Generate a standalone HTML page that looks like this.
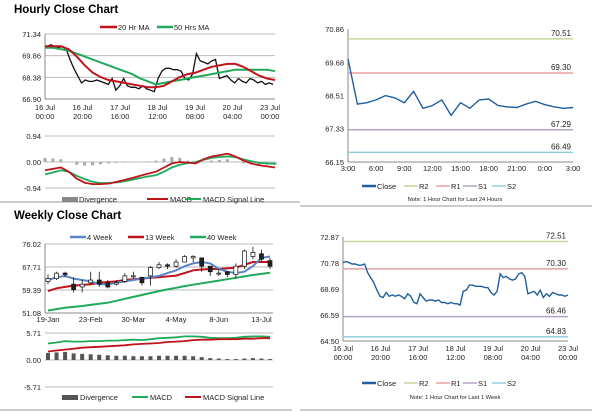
<!DOCTYPE html>
<html><head><meta charset="utf-8"><style>
html,body{margin:0;padding:0;background:#fff;}
svg{display:block;font-family:"Liberation Sans",Arial,sans-serif;}
</style></head><body>
<svg id="c" width="600" height="413" viewBox="0 0 600 413">
<text x="14" y="13" font-size="11.5" font-weight="bold">Hourly Close Chart</text>
<text x="14" y="219" font-size="11.5" font-weight="bold">Weekly Close Chart</text>
<line x1="0" y1="202" x2="300" y2="202" stroke="#999" stroke-width="1"/>
<line x1="300" y1="206" x2="592" y2="206" stroke="#999" stroke-width="1"/>
<line x1="0" y1="410" x2="292" y2="410" stroke="#999" stroke-width="1"/>
<line x1="300" y1="410" x2="592" y2="410" stroke="#999" stroke-width="1"/>
</svg>
<script>
// ---- Hourly close chart data ----
const hourlyClose = [70.5,70.6,70.5,70.4,70.5,70.3,69.6,69.0,68.5,68.0,68.2,68.1,68.1,68.2,68.1,68.0,67.9,68.3,67.5,67.8,68.3,67.8,67.7,67.7,67.6,67.8,67.6,67.5,67.4,68.3,68.8,69.0,69.0,68.9,68.9,68.8,68.3,68.2,68.6,70.0,69.5,69.4,69.3,69.5,69.6,68.3,68.4,68.5,68.2,68.0,68.3,68.1,68.0,68.3,68.2,68.0,68.1,67.9,68.0,67.9];
const hourlyMA20 = [70.5,70.5,70.5,70.3,69.8,69.2,68.7,68.4,68.2,68.1,68.0,67.9,67.8,67.7,67.7,67.8,68.1,68.4,68.6,68.7,68.9,69.1,69.2,69.3,69.3,69.1,68.8,68.5,68.3,68.2];
const hourlyMA50 = [70.4,70.4,70.3,70.2,70.0,69.8,69.6,69.4,69.2,69.0,68.8,68.6,68.3,68.1,67.9,68.0,68.1,68.2,68.3,68.4,68.5,68.6,68.7,68.8,68.9,68.9,68.9,68.9,68.9,68.8];
const hourlyMACD = [-0.30,-0.25,-0.20,-0.35,-0.60,-0.75,-0.80,-0.80,-0.78,-0.72,-0.65,-0.58,-0.50,-0.42,-0.35,-0.20,-0.05,0.00,-0.02,-0.05,0.10,0.20,0.25,0.30,0.20,0.05,-0.05,-0.12,-0.16,-0.20];
const hourlySignal = [-0.45,-0.38,-0.30,-0.35,-0.50,-0.62,-0.72,-0.76,-0.76,-0.74,-0.70,-0.64,-0.58,-0.52,-0.48,-0.35,-0.20,-0.10,-0.04,0.00,0.08,0.15,0.18,0.20,0.18,0.10,0.03,-0.03,-0.05,-0.06];
const hourlyDiv = [0.15,0.13,0.10,0.00,-0.10,-0.13,-0.12,-0.08,-0.05,-0.03,-0.02,-0.01,0.00,0.02,0.05,0.12,0.18,0.15,0.05,-0.05,0.02,0.05,0.07,0.10,0.02,-0.05,-0.08,-0.09,-0.10,-0.11];
const hourlyTicks = [71.34,69.86,68.38,66.90];
const hourlyXLabels = [["16 Jul","00:00"],["16 Jul","20:00"],["17 Jul","16:00"],["18 Jul","12:00"],["19 Jul","08:00"],["20 Jul","04:00"],["23 Jul","00:00"]];
const hourlyMacdTicks = [0.94,0.00,-0.94];
// ---- 24 hour chart data ----
const dayClose = [69.8,68.2,68.25,68.35,68.5,68.42,68.25,68.65,68.05,68.15,68.35,67.8,68.25,68.05,68.35,68.38,68.15,68.1,68.08,68.2,68.3,68.18,68.1,68.05,68.08];
const dayLevels = [70.51,69.30,67.29,66.49];
const dayTicks = [70.86,69.68,68.51,67.33,66.15];
const dayXLabels = ["3:00","6:00","9:00","12:00","15:00","18:00","21:00","0:00","3:00"];
// ---- Weekly chart data ----
const weekOpen = [62.5,63.5,65.5,61.5,60.5,62,63,62,61.5,62.5,64.5,64,64.5,67.5,68.5,68,69.5,71,71,68,65.5,66,65,68,71.5,72.5,70];
const weekClose = [63.5,65.5,65,59.5,61.5,63,61.5,60.5,62,64.5,64.5,62,67.5,68.5,68,69.5,71.5,71.5,68,66,65.5,65,68,73.5,73,70.5,68];
const weekHigh = [65,66,66,64,63,66,66,63,63,65.5,66,64,68,69.5,69,70.5,72,72,71,68,67,66,69,74,75,74,71];
const weekLow = [61.5,63,64,58.5,58.5,61.5,60.5,60,61,62,63.5,61,61,67,67,67.5,69.5,69.5,66,64.5,64.5,64,63.5,67,70.5,69.5,67];
const week4 = [63,64,64.5,63.5,63,62.5,61.5,61.5,62,62.5,63,63.5,64,64.5,65.5,66.5,68,69,69.5,69,67,66,65.5,66,68,71,71.5];
const week13 = [59,60,60.5,61,61.2,61.5,62,62.3,62.5,63,63.3,63.5,63.8,64,64.3,64.6,65.5,66.5,66.8,67,67,67.2,67.5,68.5,69.5,69.5,69.5];
const week40 = [52,52.5,53,53.3,53.6,54,54.4,54.8,55.5,56.2,56.9,57.6,58.3,59,59.6,60.2,60.8,61.3,61.8,62.3,62.8,63.3,63.8,64.3,64.8,65.2,65.6];
const weekMACD = [3.5,3.7,4.0,3.9,3.9,4.0,4.0,4.1,4.1,4.2,4.3,4.2,4.4,4.6,4.7,4.8,5.0,5.0,4.9,4.7,4.6,4.6,4.7,4.9,5.0,5.0,4.9];
const weekSignal = [1.8,2.0,2.2,2.4,2.6,2.7,2.8,2.9,3.0,3.1,3.3,3.4,3.5,3.6,3.8,3.9,4.0,4.2,4.3,4.3,4.4,4.4,4.4,4.5,4.5,4.6,4.6];
const weekDiv = [1.5,1.6,1.7,1.4,1.3,1.2,1.1,1.0,0.9,0.9,0.8,0.8,0.8,0.9,0.9,0.9,0.9,0.8,0.6,0.4,0.3,0.2,0.2,0.3,0.4,0.3,0.2];
const weekTicks = [76.02,67.71,59.39,51.08];
const weekXLabels = ["19-Jan","23-Feb","30-Mar","4-May","8-Jun","13-Jul"];
const weekXIdx = [0,5,10,15,20,25];
const weekMacdTicks = [5.71,0.00,-5.71];
// ---- 1 week hourly chart data ----
const wkClose = [70.8,70.9,70.8,70.7,70.7,70.6,70.6,70.7,70.0,69.6,69.2,68.6,68.1,68.0,68.4,68.1,68.2,68.1,68.2,68.1,67.9,68.3,68.1,67.6,67.5,68.3,68.0,67.7,67.8,67.8,67.7,67.8,67.6,67.6,67.5,67.6,67.5,67.5,67.4,68.5,68.6,69.0,69.0,68.9,68.9,68.9,68.8,68.8,68.4,68.2,68.5,69.9,69.6,69.7,69.5,69.4,69.5,69.9,70.0,69.7,68.3,68.4,68.5,68.2,68.6,68.0,68.3,68.1,68.4,68.3,68.2,68.2,68.1,68.2];
const wkLevels = [72.51,70.30,66.46,64.83];
const wkTicks = [72.87,70.78,68.69,66.59,64.50];
const wkXLabels = [["16 Jul","00:00"],["16 Jul","20:00"],["17 Jul","16:00"],["18 Jul","12:00"],["19 Jul","08:00"],["20 Jul","04:00"],["23 Jul","00:00"]];

const svg = document.getElementById('c');
const NS = 'http://www.w3.org/2000/svg';
function mk(tag, attrs){ const e=document.createElementNS(NS,tag); for(const k in attrs) e.setAttribute(k,attrs[k]); svg.appendChild(e); return e; }
function lin(d0,d1,r0,r1){ return v=>r0+(v-d0)*(r1-r0)/(d1-d0); }
function txt(x,y,s,size,anchor,fill){ const t=mk('text',{x:x,y:y,'font-size':size,'text-anchor':anchor||'start',fill:fill||'#222'}); t.textContent=s; return t; }
function path(vals,xf,yf){ return vals.map((v,i)=>(i?'L':'M')+xf(i).toFixed(1)+' '+yf(v).toFixed(1)).join(' '); }

// ===== Hourly chart =====
(function(){
 const X0=45,X1=275,Y0=34,Y1=99;
 const y=lin(71.34,66.90,Y0,Y1);
 hourlyTicks.forEach((t,i)=>{
  const g=mk('line',{x1:X0,x2:X1,y1:y(t),y2:y(t),stroke:i==3?'#888':'#bbb','stroke-width':1});
  
  
  const l=txt(X0-4,y(t)+3,t.toFixed(2),7.5,'end');
  
  
 });
 const ax=mk('line',{x1:X0,x2:X0,y1:Y0,y2:Y1,stroke:'#888'});
 
 
 hourlyXLabels.forEach((l,i)=>{
  const xx=X0+i*(X1-X0-5)/(hourlyXLabels.length-1);
  const a=txt(xx,110,l[0],7.5,'middle');  
  const b=txt(xx,119,l[1],7.5,'middle');  
 });
 const xc=i=>X0+2+i*(X1-X0-4)/(hourlyClose.length-1);
 const pc=mk('path',{d:path(hourlyClose,xc,y),fill:'none',stroke:'#111','stroke-width':1.3});
 
 
 const xm=i=>X0+i*(X1-X0)/(hourlyMA20.length-1);
 const p50=mk('path',{d:path(hourlyMA50,xm,y),fill:'none',stroke:'#1faa5a','stroke-width':2});
 
 
 const p20=mk('path',{d:path(hourlyMA20,xm,y),fill:'none',stroke:'#c0141c','stroke-width':2});
 
 
 const l1=mk('line',{x1:100,x2:117,y1:27,y2:27,stroke:'#c0141c','stroke-width':2.5});  
 const t1=txt(118,30,'20 Hr MA',7.5);  
 const l2=mk('line',{x1:157,x2:173,y1:27,y2:27,stroke:'#1faa5a','stroke-width':2.5});  
 const t2=txt(174,30,'50 Hrs MA',7.5);  
 const ym=lin(0.94,-0.94,136,188);
 hourlyMacdTicks.forEach(t=>{
  const g=mk('line',{x1:X0,x2:X1,y1:ym(t),y2:ym(t),stroke:'#bbb'});
  
  
  const l=txt(X0-4,ym(t)+3,t.toFixed(2),7.5,'end');
  
  
 });
 const xd=i=>X0+i*(X1-X0)/(hourlyDiv.length-1);
 hourlyDiv.forEach((v,i)=>{
  const r=mk('rect',{x:xd(i)-1.5,y:Math.min(ym(v),ym(0)),width:3,height:Math.abs(ym(v)-ym(0)),fill:'#aaa'});
  
  
 });
 const ps=mk('path',{d:path(hourlySignal,xm,ym),fill:'none',stroke:'#1faa5a','stroke-width':1.8});
 
 
 const pm=mk('path',{d:path(hourlyMACD,xm,ym),fill:'none',stroke:'#c0141c','stroke-width':1.8});
 
 
 const r1=mk('rect',{x:62,y:197,width:16,height:5,fill:'#888'});  
 const a1=txt(79,202,'Divergence',7.5);  
 const r2=mk('line',{x1:147,x2:168,y1:199,y2:199,stroke:'#c0141c','stroke-width':2});  
 const a2=txt(170,202,'MACD',7.5);  
 const r3=mk('line',{x1:185,x2:201,y1:199,y2:199,stroke:'#1faa5a','stroke-width':2});  
 const a3=txt(203,202,'MACD Signal Line',7.5);  
})();

// ===== Level charts (right side) =====
const levelColors=['#c3d69b','#e6a0a0','#b3a2c7','#93cddd'];
const levelNames=['R2','R1','S1','S2'];
function levelChart(o){
 const y=lin(o.ticks[0],o.ticks[o.ticks.length-1],o.Y0,o.Y1);
 o.ticks.forEach(t=>{
  const l=txt(o.X0-4,y(t)+3,t.toFixed(2),7.5,'end');
  
  
 });
 const ax=mk('line',{x1:o.X0,x2:o.X0,y1:o.Y0,y2:o.Y1,stroke:'#888'});  
 const bx=mk('line',{x1:o.X0,x2:o.X1,y1:o.Y1,y2:o.Y1,stroke:'#888'});  
 o.levels.forEach((v,i)=>{
  const g=mk('line',{x1:o.X0,x2:o.X1,y1:y(v),y2:y(v),stroke:levelColors[i],'stroke-width':1.5});
  
  
  const l=txt(o.X1-2,y(v)-3,v.toFixed(2),8,'end');
  
  
 });
 const xc=i=>o.X0+i*(o.X1-o.X0)/(o.close.length-1);
 const p=mk('path',{d:path(o.close,xc,y),fill:'none',stroke:'#1f5f9f','stroke-width':1.4});
 
 
 o.xl.forEach((l,i)=>{
  const xx=o.X0+i*(o.X1-o.X0)/(o.xl.length-1);
  if(Array.isArray(l)){
   const a=txt(xx,o.Y1+10,l[0],7.5,'middle');  
   const b=txt(xx,o.Y1+19,l[1],7.5,'middle');  
  } else {
   const a=txt(xx,o.Y1+9,l,7.5,'middle');  
  }
 });
 const lx=[362,404,436,463,492];
 const cols=['#1f5f9f'].concat(levelColors);
 const nm=['Close'].concat(levelNames);
 nm.forEach((n,i)=>{
  const s=mk('line',{x1:lx[i],x2:lx[i]+14,y1:o.LY-3,y2:o.LY-3,stroke:cols[i],'stroke-width':i?1.5:2.5});
  
  
  const t=txt(lx[i]+15,o.LY,n,7.5);
  
  
 });
 const nt=txt(455,o.NY,o.note,5.8,'middle');
 
 
}
levelChart({name:'day',X0:348,X1:573,Y0:29,Y1:162,ticks:dayTicks,levels:dayLevels,close:dayClose,xl:dayXLabels,LY:189,NY:201,note:'Note: 1 Hour Chart for Last 24 Hours'});
levelChart({name:'week',X0:343,X1:568,Y0:237,Y1:341,ticks:wkTicks,levels:wkLevels,close:wkClose,xl:wkXLabels,LY:386,NY:399,note:'Note: 1 Hour Chart for Last 1 Week'});

// ===== Weekly chart =====
(function(){
 const X0=45,X1=273,Y0=244,Y1=313;
 const y=lin(76.02,51.08,Y0,Y1);
 weekTicks.forEach((t,i)=>{
  const g=mk('line',{x1:X0,x2:X1,y1:y(t),y2:y(t),stroke:i==3?'#888':'#bbb'});
  
  
  const l=txt(X0-4,y(t)+3,t.toFixed(2),7.5,'end');
  
  
 });
 const ax=mk('line',{x1:X0,x2:X0,y1:Y0,y2:Y1,stroke:'#888'});  
 const xw=i=>48+i*(270-48)/(weekClose.length-1);
 weekXLabels.forEach((l,i)=>{
  const a=txt(xw(weekXIdx[i]),322,l,7.5,'middle');
  
  
 });
 const p40=mk('path',{d:path(week40,xw,y),fill:'none',stroke:'#1faa5a','stroke-width':2});  
 const p13=mk('path',{d:path(week13,xw,y),fill:'none',stroke:'#c0141c','stroke-width':2});  
 const p4=mk('path',{d:path(week4,xw,y),fill:'none',stroke:'#5b84c4','stroke-width':2});  
 weekClose.forEach((c,i)=>{
  const o=weekOpen[i];
  const w=mk('line',{x1:xw(i),x2:xw(i),y1:y(weekHigh[i]),y2:y(weekLow[i]),stroke:'#111','stroke-width':0.8});
  
  
  const top=y(Math.max(o,c)), h=Math.max(1,Math.abs(y(o)-y(c)));
  const b=mk('rect',{x:xw(i)-2,y:top,width:4,height:h,fill:c>=o?'#fff':'#222',stroke:'#111','stroke-width':0.7});
  
  
 });
 const lg=[[70,'#5b84c4','4 Week'],[128,'#c0141c','13 Week'],[190,'#1faa5a','40 Week']];
 lg.forEach(l=>{
  const s=mk('line',{x1:l[0],x2:l[0]+16,y1:237,y2:237,stroke:l[1],'stroke-width':2.5});  
  const t=txt(l[0]+17,240,l[2],7.5);  
 });
 const ym=lin(5.71,-5.71,333,387);
 weekMacdTicks.forEach(t=>{
  const g=mk('line',{x1:X0,x2:X1,y1:ym(t),y2:ym(t),stroke:'#bbb'});
  
  
  const l=txt(X0-4,ym(t)+3,t.toFixed(2),7.5,'end');
  
  
 });
 weekDiv.forEach((v,i)=>{
  const r=mk('rect',{x:xw(i)-2,y:ym(v),width:4,height:ym(0)-ym(v),fill:'#555'});
  
  
 });
 const pm=mk('path',{d:path(weekMACD,xw,ym),fill:'none',stroke:'#1faa5a','stroke-width':1.8});  
 const ps=mk('path',{d:path(weekSignal,xw,ym),fill:'none',stroke:'#c0141c','stroke-width':1.8});  
 const r1=mk('rect',{x:62,y:395,width:16,height:5,fill:'#555'});  
 const a1=txt(80,400,'Divergence',7.5);  
 const r2=mk('line',{x1:132,x2:148,y1:397,y2:397,stroke:'#1faa5a','stroke-width':2});  
 const a2=txt(150,400,'MACD',7.5);  
 const r3=mk('line',{x1:185,x2:201,y1:397,y2:397,stroke:'#c0141c','stroke-width':2});  
 const a3=txt(203,400,'MACD Signal Line',7.5);  
})();
</script>
</body></html>
